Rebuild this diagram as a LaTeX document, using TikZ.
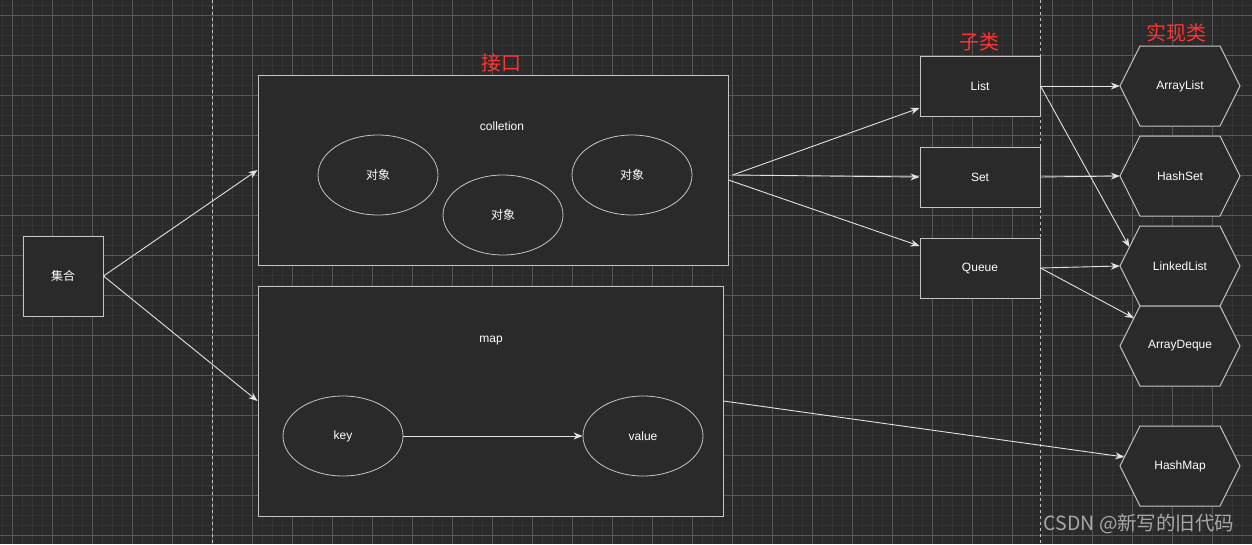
\documentclass[tikz,border=0pt]{standalone}
\usepackage{fontspec}
\setmainfont{Liberation Sans}
\newfontfamily\cjk{Noto Sans CJK SC}
\usetikzlibrary{arrows.meta,positioning,shapes.geometric,calc}
\definecolor{canvas}{HTML}{2A2A2A}
\definecolor{minorgrid}{HTML}{343434}
\definecolor{majorgrid}{HTML}{575757}
\definecolor{edgegray}{HTML}{C4C4C4}
\definecolor{arrowgray}{HTML}{E2E2E2}
\definecolor{labelred}{HTML}{FF3333}
\definecolor{markgray}{HTML}{A8A8A8}

\begin{document}
\begin{tikzpicture}[x=1pt,y=-1pt,node distance=30pt and 80pt,
    every node/.style={font=\fontsize{12}{14}\selectfont,text=white},
    box/.style={draw=edgegray,fill=canvas,line width=1pt,minimum width=120pt,minimum height=60pt},
    bigbox/.style={draw=edgegray,fill=canvas,line width=1pt},
    obj/.style={ellipse,draw=edgegray,fill=canvas,line width=0.8pt,minimum width=120pt,minimum height=80pt},
    hexline/.style={draw=edgegray,fill=canvas,line width=1pt},
    title/.style={font=\cjk\fontsize{20}{24}\selectfont,text=labelred},
    arr/.style={draw=arrowgray,line width=0.9pt,-{Stealth[length=9pt,width=7pt]}}]
  \useasboundingbox[fill=canvas] (0,0) rectangle (1252,544);
  % grid
  \foreach \x in {2,12,...,1252} \draw[minorgrid,line width=1pt] (\x,0) -- (\x,544);
  \foreach \y in {5,15,...,535} \draw[minorgrid,line width=1pt] (0,\y) -- (1252,\y);
  \foreach \x in {12,52,...,1252} \draw[majorgrid,line width=0.8pt] (\x,0) -- (\x,544);
  \foreach \y in {15,55,...,535} \draw[majorgrid,line width=0.8pt] (0,\y) -- (1252,\y);
  \draw[edgegray,line width=1pt,dash pattern=on 3pt off 3pt] (212,0) -- (212,544);
  \draw[edgegray,line width=1pt,dash pattern=on 3pt off 3pt] (1040,0) -- (1040,544);

  \node[box,minimum width=80pt,minimum height=80pt] (jihe) at (63,276) {\cjk 集合};

  \node[bigbox,minimum width=470pt,minimum height=190pt] (coll) at (493,170) {};
  \node (colltext) at (502,126) {colletion};
  \node[obj] (obja) at (378,175) {\cjk 对象};
  \node[obj] (objb) at (503,215) {\cjk 对象};
  \node[obj] (objc) at (632,175) {\cjk 对象};

  \node[bigbox,minimum width=465pt,minimum height=230pt] (map) at (490.5,401) {};
  \node (maptext) at (491,341) {map};
  \node[obj] (key) at (343,436) {key};
  \node[obj] (value) at (643,436) {value};

  \node[box] (list) at (980,86) {List};
  \node[box,below=of list] (set) {Set};
  \node[box,below=of set] (queue) {Queue};

  \foreach \n/\t/\y in {arraylist/ArrayList/86,hashset/HashSet/176,linkedlist/LinkedList/266,
                        arraydeque/ArrayDeque/346,hashmap/HashMap/466}{
    \filldraw[hexline] (1120,\y) -- ++(20,-40) -- ++(80,0) -- ++(20,40) -- ++(-20,40) -- ++(-80,0) -- cycle;
    \node[minimum width=120pt,minimum height=80pt] (\n) at (1180,\y) {\t};
  }

  \node[title] (jiekou) at (501,63) {接口};
  \node[title] (zilei) at (979,42) {子类};
  \node[title] (shixian) at (1176,33) {实现类};

  \coordinate (cout) at ([xshift=4pt,yshift=-5pt]coll.east);
  \draw[arr] (jihe.east) -- (coll.west);
  \draw[arr] (jihe.east) -- (map.west);
  \draw[arr] (cout) -- (list.200);
  \draw[arr] (cout) -- (set.west);
  \draw[arr] ([yshift=-10pt]coll.east) -- (queue.160);
  \draw[arr] (key) -- (value);
  \draw[arr] (list.east) -- (arraylist.west);
  \draw[arr] (list.east) -- ([xshift=9.5pt,yshift=19pt]linkedlist.west);
  \draw[arr] (set.east) -- (hashset.west);
  \draw[arr] (queue.east) -- (linkedlist.west);
  \draw[arr] (queue.east) -- ([xshift=14pt,yshift=28pt]arraydeque.west);
  \draw[arr] (map.east) -- ([xshift=4.5pt,yshift=9pt]hashmap.west);

  \node[font=\cjk\fontsize{19.5}{22}\selectfont,text=markgray,anchor=east] (mark) at (1238,524) {CSDN @新写的旧代码};
\end{tikzpicture}
\end{document}
